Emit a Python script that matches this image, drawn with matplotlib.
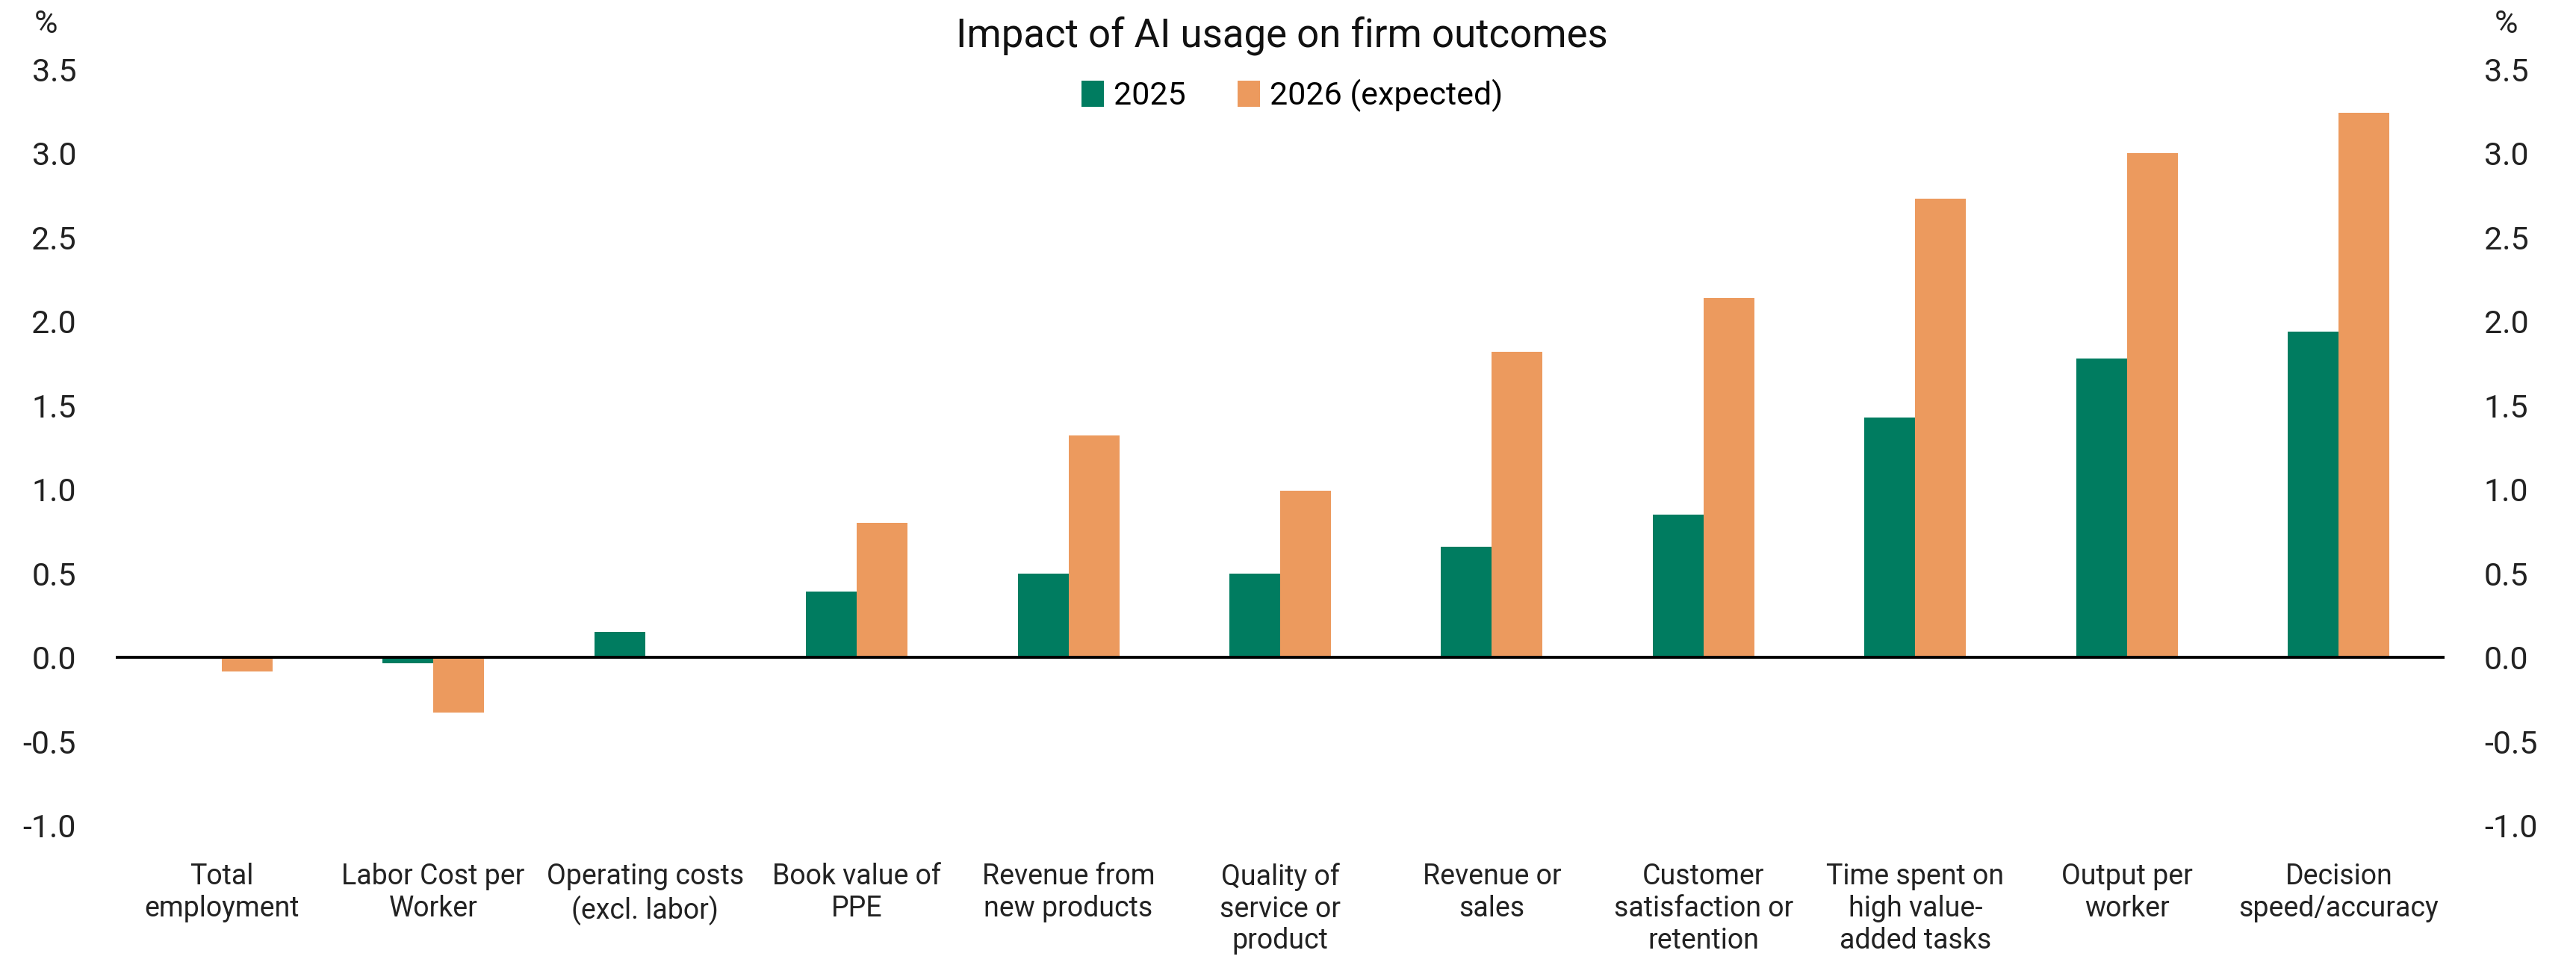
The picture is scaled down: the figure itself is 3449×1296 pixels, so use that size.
import matplotlib
matplotlib.use("Agg")
import matplotlib.pyplot as plt
import numpy as np

plt.rcParams['font.family'] = ['Roboto', 'DejaVu Sans']

categories = ["Total\nemployment", "Labor Cost per\nWorker", "Operating costs\n(excl. labor)",
              "Book value of\nPPE", "Revenue from\nnew products", "Quality of\nservice or\nproduct",
              "Revenue or\nsales", "Customer\nsatisfaction or\nretention", "Time spent on\nhigh value-\nadded tasks",
              "Output per\nworker", "Decision\nspeed/accuracy"]
v2025 = [0.0, -0.035, 0.15, 0.39, 0.50, 0.50, 0.66, 0.85, 1.43, 1.78, 1.94]
v2026 = [-0.085, -0.33, 0.0, 0.80, 1.32, 0.99, 1.82, 2.14, 2.73, 3.00, 3.24]
yticks = [-1.0, -0.5, 0.0, 0.5, 1.0, 1.5, 2.0, 2.5, 3.0, 3.5]

green = "#007C60"
orange = "#EC9A5E"

fig = plt.figure(figsize=(34.49, 12.96), dpi=100)
ax = fig.add_axes([155/3449, 1-1105/1296, (3273-155)/3449, (1105-93)/1296])

x = np.arange(len(categories))
w = 0.24
ax.bar(x - w/2, v2025, w, color=green, label="2025", zorder=2)
ax.bar(x + w/2, v2026, w, color=orange, label="2026 (expected)", zorder=2)
ax.axhline(0, color="black", lw=2.8, zorder=3)

ax.set_xlim(-0.5, len(categories) - 0.5)
ax.set_ylim(-1.0, 3.5)
for s in ax.spines.values():
    s.set_visible(False)

ax.set_yticks(yticks)
ax.set_yticklabels([f"{t:.1f}" for t in yticks])
ax.tick_params(axis="y", length=0, labelsize=31, pad=38, labelright=True, colors="#222222")
ax.set_xticks(x)
ax.set_xticklabels(categories, fontsize=27, linespacing=1.2, color="#222222")
ax.tick_params(axis="x", length=0, pad=36)

fig.text(62/3449, 1-33/1296, "%", fontsize=31, ha="center", va="center", color="#222222")
fig.text(3355/3449, 1-33/1296, "%", fontsize=31, ha="center", va="center", color="#222222")
fig.text(1716/3449, 1-48/1296, "Impact of AI usage on firm outcomes", fontsize=38,
         ha="center", va="center", color="#111111")

ax.legend(loc="center", bbox_to_anchor=(1730/3449, 1-128/1296), bbox_transform=fig.transFigure,
          ncol=2, frameon=False, fontsize=31, handlelength=0.7, handleheight=0.9,
          handletextpad=0.3, columnspacing=1.6)

fig.savefig("out.png", dpi=100, facecolor="white")
